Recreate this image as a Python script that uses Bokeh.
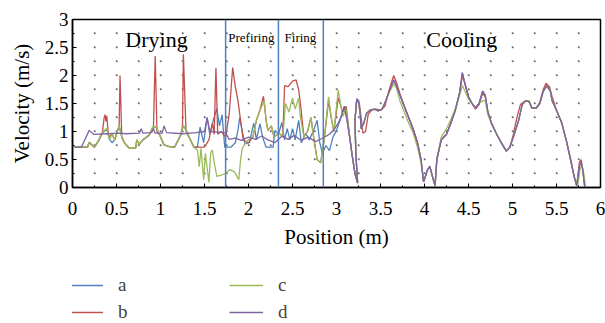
from bokeh.plotting import figure
from bokeh.layouts import column
from bokeh.models import Legend, LegendItem, Label, FixedTicker, Span, NumeralTickFormatter
from bokeh.embed import file_html
from bokeh.resources import INLINE

FONT = "Liberation Serif"

x_major = [0, 0.5, 1, 1.5, 2, 2.5, 3, 3.5, 4, 4.5, 5, 5.5, 6]
y_major = [0, 0.5, 1, 1.5, 2, 2.5, 3]
zone_bounds = [1.74, 2.34, 2.85]
zone_names = ["Drying", "Prefiring", "Firing", "Cooling"]
series_names = ["a", "b", "c", "d"]

# common cooling profile, per series
cool_x_d = [3.05, 3.09, 3.12, 3.15, 3.18, 3.21, 3.24, 3.22, 3.21, 3.23, 3.25, 3.27, 3.28, 3.31, 3.34,
            3.38, 3.43, 3.47, 3.52, 3.56, 3.60, 3.65, 3.68, 3.72, 3.77, 3.82, 3.87, 3.92, 3.96, 3.99,
            4.03, 4.06, 4.09, 4.12, 4.14, 4.19, 4.25, 4.30, 4.35, 4.40, 4.43, 4.46, 4.50, 4.54, 4.58,
            4.62, 4.66, 4.69, 4.72, 4.76, 4.82, 4.88, 4.93, 4.97, 5.02, 5.07, 5.11, 5.15, 5.19, 5.22,
            5.27, 5.31, 5.35, 5.39, 5.43, 5.45, 5.50, 5.56, 5.61, 5.66, 5.70, 5.73, 5.76, 5.78, 5.80, 5.82]
cool_v_d = [1.25, 1.45, 1.20, 0.90, 0.55, 0.25, 0.08, 0.60, 1.20, 1.58, 1.55, 1.30, 1.05, 1.15, 1.32,
            1.38, 1.40, 1.37, 1.40, 1.55, 1.72, 1.92, 1.82, 1.65, 1.45, 1.25, 1.05, 0.80, 0.50, 0.10,
            0.30, 0.38, 0.20, 0.03, 0.50, 0.85, 0.95, 1.15, 1.38, 1.70, 2.05, 1.85, 1.62, 1.50, 1.42,
            1.50, 1.72, 1.65, 1.35, 1.15, 0.95, 0.78, 0.65, 0.72, 0.95, 1.20, 1.48, 1.55, 1.53, 1.42,
            1.42, 1.50, 1.72, 1.82, 1.72, 1.55, 1.38, 1.15, 0.85, 0.50, 0.20, 0.03, 0.38, 0.45, 0.30, 0.02]

# a (blue)
xa = [0.02, 0.17, 0.19, 0.25, 0.30, 0.34, 0.39, 0.42, 0.45, 0.48, 0.53, 0.56, 0.59, 0.64, 0.72, 0.73,
      0.76, 0.80, 0.87, 0.91, 0.95, 0.99, 1.04, 1.10, 1.16, 1.23, 1.26, 1.30, 1.34, 1.38,
      1.42, 1.45, 1.49, 1.53, 1.56, 1.60, 1.64, 1.67, 1.70, 1.73, 1.80, 1.85, 1.88, 1.90, 1.93,
      1.96, 2.01, 2.06, 2.09, 2.13, 2.16, 2.20, 2.28, 2.30, 2.34, 2.38, 2.41, 2.44, 2.47, 2.50,
      2.53, 2.57, 2.60, 2.65, 2.69, 2.74, 2.78, 2.81, 2.84, 2.88, 2.92, 2.96, 3.00, 3.04] + cool_x_d
va = [0.72, 0.72, 0.80, 0.72, 0.84, 0.98, 1.04, 0.86, 0.80, 0.85, 1.10, 0.90, 0.80, 0.71, 0.71, 0.84,
      0.78, 0.85, 0.93, 1.06, 1.08, 0.94, 0.76, 0.73, 0.72, 0.94, 1.10, 1.00, 0.85, 0.72,
      0.72, 1.08, 0.80, 1.25, 0.95, 1.20, 1.41, 1.10, 1.30, 0.72, 0.72, 0.80, 1.02, 1.25, 1.00,
      0.78, 0.80, 1.15, 0.85, 1.14, 0.90, 0.72, 0.72, 1.02, 0.95, 1.16, 0.85, 1.05, 0.85, 1.05,
      0.85, 1.20, 0.80, 0.97, 0.85, 1.02, 1.20, 0.80, 0.61, 0.75, 0.66, 0.90, 1.02, 1.20] + cool_v_d

# b (red)
xb = [0.02, 0.17, 0.19, 0.25, 0.30, 0.34, 0.36, 0.37, 0.38, 0.39, 0.41, 0.45, 0.48, 0.53, 0.54, 0.56,
      0.59, 0.64, 0.72, 0.73, 0.76, 0.80, 0.87, 0.92, 0.94, 0.96, 0.99, 1.04, 1.10, 1.16, 1.23,
      1.25, 1.26, 1.29, 1.34, 1.38, 1.43, 1.50, 1.55, 1.59, 1.61, 1.63, 1.65, 1.69, 1.74, 1.78,
      1.82, 1.85, 1.88, 1.91, 1.94, 2.00, 2.05, 2.09, 2.13, 2.17, 2.20, 2.22, 2.26, 2.29, 2.35,
      2.39, 2.41, 2.45, 2.50, 2.54, 2.57, 2.59, 2.63, 2.67, 2.71, 2.74, 2.78, 2.82, 2.86, 2.91,
      2.94, 2.97, 3.02, 3.07, 3.11, 3.15, 3.18, 3.21, 3.24, 3.22, 3.21, 3.23, 3.26, 3.28, 3.30,
      3.33, 3.36, 3.40, 3.45, 3.50, 3.55, 3.60, 3.65, 3.68, 3.72, 3.77, 3.82, 3.87, 3.92, 3.96,
      3.99, 4.03, 4.06, 4.09, 4.12, 4.14, 4.19, 4.25, 4.30, 4.35, 4.40, 4.43, 4.46, 4.50, 4.54,
      4.58, 4.62, 4.66, 4.69, 4.72, 4.76, 4.82, 4.88, 4.93, 4.97, 5.01, 5.05, 5.09, 5.12, 5.15,
      5.19, 5.22, 5.27, 5.31, 5.35, 5.38, 5.42, 5.45, 5.50, 5.56, 5.61, 5.66, 5.70, 5.73, 5.76,
      5.78, 5.80, 5.82]
vb = [0.72, 0.72, 0.81, 0.72, 0.85, 0.99, 1.25, 1.30, 1.18, 1.28, 0.90, 0.95, 0.85, 1.10, 2.00, 0.90,
      0.80, 0.71, 0.71, 0.85, 0.77, 0.85, 0.94, 1.08, 2.35, 1.00, 0.94, 0.76, 0.73, 0.72, 0.94,
      1.10, 2.38, 1.00, 0.85, 0.72, 0.72, 0.72, 0.85, 1.15, 0.95, 2.14, 0.95, 1.00, 0.90, 1.30,
      2.14, 1.80, 1.55, 1.20, 0.85, 0.80, 0.90, 1.20, 1.38, 1.63, 1.20, 1.02, 1.10, 0.90, 0.97,
      0.90, 1.82, 1.80, 1.90, 1.92, 1.75, 1.50, 0.90, 1.00, 1.25, 0.90, 0.50, 0.44, 0.85, 1.55,
      1.25, 1.00, 1.60, 1.35, 1.45, 0.90, 0.55, 0.25, 0.08, 0.60, 1.20, 1.58, 1.50, 1.25, 0.97,
      1.00, 1.30, 1.38, 1.40, 1.38, 1.45, 1.75, 2.00, 1.88, 1.68, 1.45, 1.25, 1.05, 0.80, 0.50,
      0.10, 0.30, 0.38, 0.20, 0.03, 0.50, 0.85, 0.95, 1.15, 1.38, 1.70, 2.00, 1.85, 1.62, 1.50,
      1.40, 1.48, 1.68, 1.62, 1.35, 1.15, 0.95, 0.78, 0.65, 0.72, 0.95, 1.25, 1.48, 1.52, 1.55,
      1.53, 1.42, 1.42, 1.52, 1.75, 1.86, 1.80, 1.62, 1.38, 1.15, 0.85, 0.50, 0.20, 0.03, 0.45,
      0.50, 0.30, 0.02]

# c (green)
xc = [0.02, 0.17, 0.19, 0.25, 0.30, 0.34, 0.39, 0.42, 0.45, 0.48, 0.53, 0.56, 0.59, 0.64, 0.72, 0.73,
      0.76, 0.80, 0.87, 0.91, 0.95, 0.99, 1.04, 1.10, 1.16, 1.23, 1.26, 1.30, 1.34, 1.38, 1.42,
      1.44, 1.46, 1.49, 1.51, 1.55, 1.57, 1.59, 1.61, 1.64, 1.69, 1.74, 1.79, 1.84, 1.89, 1.91,
      1.93, 1.97, 2.02, 2.05, 2.09, 2.13, 2.18, 2.20, 2.22, 2.26, 2.29, 2.35, 2.39, 2.42, 2.46,
      2.50, 2.53, 2.57, 2.59, 2.63, 2.67, 2.71, 2.74, 2.78, 2.82, 2.86, 2.91, 2.94, 2.97, 3.02,
      3.07, 3.11, 3.15, 3.18, 3.21, 3.24, 3.22, 3.21, 3.23, 3.25, 3.27, 3.28, 3.31, 3.34, 3.38,
      3.43, 3.47, 3.52, 3.56, 3.60, 3.65, 3.68, 3.72, 3.77, 3.82, 3.87, 3.92, 3.96, 3.99, 4.03,
      4.06, 4.09, 4.12, 4.14, 4.19, 4.26, 4.31, 4.36, 4.40, 4.43, 4.46, 4.50, 4.54, 4.58, 4.62,
      4.66, 4.69, 4.72, 4.76, 4.82, 4.88, 4.93, 4.97, 5.02, 5.07, 5.11, 5.15, 5.19, 5.22, 5.27,
      5.31, 5.35, 5.39, 5.43, 5.45, 5.50, 5.56, 5.61, 5.66, 5.70, 5.74, 5.77, 5.79, 5.81, 5.83]
vc = [0.72, 0.72, 0.81, 0.72, 0.85, 0.99, 1.06, 0.85, 0.95, 0.85, 1.11, 0.90, 0.80, 0.71, 0.71, 0.85,
      0.77, 0.85, 0.94, 1.08, 1.08, 0.94, 0.76, 0.73, 0.72, 0.94, 1.11, 1.00, 0.85, 0.72, 0.67,
      0.37, 0.70, 0.14, 0.61, 0.09, 0.62, 0.67, 0.45, 0.20, 0.22, 0.25, 0.32, 0.28, 0.14, 0.50,
      0.70, 0.81, 0.88, 0.90, 1.20, 1.38, 1.55, 1.20, 1.02, 1.10, 0.90, 0.97, 0.90, 1.50, 1.35,
      1.60, 1.40, 1.60, 1.25, 0.90, 1.00, 1.25, 0.90, 0.50, 0.44, 0.85, 1.62, 1.25, 1.00, 1.74,
      1.27, 1.40, 0.90, 0.55, 0.25, 0.08, 0.60, 1.20, 1.58, 1.55, 1.30, 1.05, 1.15, 1.32, 1.38,
      1.40, 1.37, 1.40, 1.55, 1.70, 1.85, 1.78, 1.55, 1.35, 1.15, 0.98, 0.72, 0.45, 0.10, 0.30,
      0.38, 0.20, 0.03, 0.50, 0.90, 1.08, 1.25, 1.45, 1.65, 1.82, 1.72, 1.58, 1.50, 1.42, 1.50,
      1.55, 1.55, 1.30, 1.15, 0.95, 0.78, 0.65, 0.72, 0.95, 1.20, 1.48, 1.55, 1.55, 1.42, 1.42,
      1.50, 1.72, 1.80, 1.72, 1.55, 1.38, 1.15, 0.85, 0.50, 0.20, 0.03, 0.35, 0.40, 0.25, 0.02]

# d (purple)
xd = [0.02, 0.10, 0.19, 0.24, 0.40, 0.55, 0.60, 0.76, 0.78, 0.80, 0.90, 0.92, 0.94, 1.02, 1.04, 1.07,
      1.25, 1.40, 1.50, 1.53, 1.56, 1.65, 1.74, 1.78, 1.85, 1.92, 2.00, 2.08, 2.15, 2.22, 2.30,
      2.38, 2.45, 2.52, 2.60, 2.68, 2.76, 2.84, 2.92, 2.98, 3.02] + cool_x_d
vd = [0.72, 0.72, 1.02, 0.95, 0.96, 0.97, 0.96, 0.97, 1.05, 0.97, 0.98, 1.05, 0.97, 0.97, 1.10, 0.98,
      0.96, 0.98, 1.00, 1.25, 1.00, 0.99, 0.98, 0.86, 0.88, 0.84, 0.90, 0.86, 0.92, 0.85, 0.80,
      0.92, 0.86, 0.93, 0.84, 0.90, 0.82, 0.88, 0.95, 1.05, 1.15] + cool_v_d

colors = ["#4F81BD", "#C0504D", "#9BBB59", "#8064A2"]

p = figure(frame_width=528, frame_height=168, x_range=(0, 6), y_range=(0, 3),
           output_backend="svg", toolbar_location=None,
           min_border_left=72, min_border_right=5, min_border_top=19, min_border_bottom=75)
p.background_fill_color = "white"
p.border_fill_color = "white"
p.outline_line_color = "black"
p.outline_line_width = 1.5

minor = [0.25 * i for i in range(0, 25)]
p.xaxis.ticker = FixedTicker(ticks=x_major, minor_ticks=minor)
p.yaxis.ticker = FixedTicker(ticks=y_major, minor_ticks=minor[:13])
p.xaxis.formatter = NumeralTickFormatter(format="0.[0]")
p.yaxis.formatter = NumeralTickFormatter(format="0.[0]")
p.axis.major_tick_in = 4
p.axis.major_tick_out = 0
p.axis.minor_tick_in = 2
p.axis.minor_tick_out = 0
p.axis.axis_line_color = "black"
p.axis.axis_line_width = 1.5
p.axis.major_tick_line_color = "black"
p.axis.minor_tick_line_color = "black"
p.axis.major_label_text_font = FONT
p.axis.major_label_text_font_size = "19px"
p.axis.major_label_text_color = "black"
p.axis.axis_label_text_font = FONT
p.axis.axis_label_text_font_size = "21px"
p.axis.axis_label_text_font_style = "normal"
p.axis.axis_label_text_color = "black"
p.xaxis.axis_label = "Position (m)"
p.yaxis.axis_label = "Velocity (m/s)"
p.xaxis.major_label_standoff = 14
p.xaxis.axis_label_standoff = 7
p.yaxis.major_label_standoff = 4
p.yaxis.axis_label_standoff = 8

p.xgrid.ticker = FixedTicker(ticks=minor[1:-1])
p.ygrid.ticker = FixedTicker(ticks=minor[1:12])
p.xgrid.grid_line_color = "#444444"
p.ygrid.grid_line_color = "#444444"
p.xgrid.grid_line_dash = "1 13"
p.ygrid.grid_line_dash = "1 21"
p.xgrid.grid_line_width = 1.5
p.ygrid.grid_line_width = 1.5

for xs, vs, c in zip([xa, xb, xc, xd], [va, vb, vc, vd], colors):
    p.line(xs, vs, line_color=c, line_width=1.3)

for b in zone_bounds:
    p.add_layout(Span(location=b, dimension="height", line_color="#4F81BD", line_width=1.5))

label_x = [0.60, 1.77, 2.41, 4.02]
label_y = [2.64, 2.68, 2.68, 2.64]
label_size = ["22px", "13px", "13px", "22px"]
for name, lx, ly, ls in zip(zone_names, label_x, label_y, label_size):
    p.add_layout(Label(x=lx, y=ly, text=name, text_font=FONT, text_font_size=ls,
                       text_baseline="middle", text_color="black"))

# legend strip below the chart (its lines lie outside the visible range)
q = figure(width=605, height=61, x_range=(0, 1), y_range=(0, 1),
           output_backend="svg", toolbar_location=None,
           x_axis_type=None, y_axis_type=None, min_border=0)
q.outline_line_color = None
q.grid.visible = False
q.background_fill_color = "white"
q.border_fill_color = "white"
legend_renderers = [q.line([0, 1], [-5, -5], line_color=c, line_width=1.3) for c in colors]
items = [LegendItem(label=n, renderers=[r]) for n, r in zip(series_names, legend_renderers)]
legend = Legend(items=items, location=(-3, 0), orientation="vertical", nrows=2,
                glyph_width=34, glyph_height=20, label_height=20, label_width=106,
                label_standoff=15, spacing=5, padding=1, margin=0,
                border_line_color=None, background_fill_alpha=0,
                label_text_font=FONT, label_text_font_size="19px")
q.add_layout(legend, "center")

layout = column(p, q, spacing=0)
open("out.html", "w").write(file_html(layout, INLINE))
